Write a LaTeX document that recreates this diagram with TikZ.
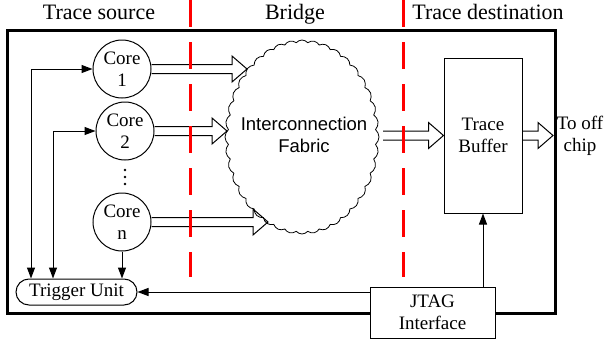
\documentclass[tikz,border=0pt]{standalone}
\usepackage{fontspec}
\setmainfont{Liberation Serif}
\newfontfamily\arialfont{Liberation Sans}
\usetikzlibrary{shapes.symbols,arrows.meta,calc}

\tikzset{
  body/.style={font=\rmfamily\fontsize{19}{22.5}\selectfont},
  head/.style={font=\rmfamily\fontsize{22}{26}\selectfont, anchor=base, inner sep=0pt},
  core/.style={circle, draw, line width=1pt, minimum size=58pt, inner sep=0pt, align=center, body},
  box/.style={rectangle, draw, line width=1pt, fill=white, inner sep=0pt, align=center, body},
  sig/.style={line width=1pt, -{Triangle[length=11pt,width=8pt]}},
  sigboth/.style={line width=1pt, {Triangle[length=11pt,width=8pt]}-{Triangle[length=11pt,width=8pt]}},
  fatline/.style={line width=1pt, line join=miter},
  divider/.style={draw=red, line width=3pt, dash pattern=on 27pt off 15pt},
  frame/.style={line width=3pt},
}

% hollow block arrow between two points at the same height
\newcommand{\fatarrow}[2]{%
  \draw[fatline] let \p1=(#1), \p2=(#2) in
    (\x1,\y1+4.5pt) -- (\x2-15pt,\y1+4.5pt) -- (\x2-15pt,\y1+13pt) -- (\x2,\y1)
    -- (\x2-15pt,\y1-13pt) -- (\x2-15pt,\y1-4.5pt) -- (\x1,\y1-4.5pt);}

\begin{document}
\begin{tikzpicture}[x=1pt,y=-1pt]
\useasboundingbox (0,0) rectangle (606,343);

% chip boundary
\draw[frame] (7,30) rectangle (555,313);

% section headings
\node[head] (hsrc) at (99,19) {Trace source};
\node[head] (hbridge) at (295,19) {Bridge};
\node[head] (hdst) at (488,19) {Trace destination};

% cores
\node[core] (core1) at (122,69) {Core\\1};
\node[core] (core2) at (125,131) {Core\\2};
\node[core] (coren) at (122,222) {Core\\n};
\foreach \yy in {170,177,184} \fill (125,\yy) circle (1.4pt);

% interconnect cloud
\node[cloud, draw, line width=0.8pt, cloud puffs=40, cloud puff arc=100,
      cloud ignores aspect, minimum width=154pt, minimum height=194pt,
      inner sep=0pt] (fabric) at (302,137) {};
\node[font=\arialfont\fontsize{18.5}{22}\selectfont, align=center] (fabtext) at (304,135) {Interconnection\\Fabric};

% trace buffer, trigger unit, JTAG
\node[box, minimum width=78pt, minimum height=155pt] (buf) at (483,135.5) {Trace\\Buffer};
\node[box, rounded corners=13pt, minimum width=121pt, minimum height=26pt] (trig) at (76.5,292) {Trigger Unit};
\node[box, minimum width=125pt, minimum height=51pt] (jtag) at (432.5,312.5) {JTAG\\Interface};
\node[body, align=center, inner sep=0pt] (offchip) at (580,136) {To off\\chip};

% end points of the block arrows
\coordinate (in1) at (247,69);
\coordinate (in2) at (227,131);
\coordinate (inn) at (268,222);
\coordinate (fabout) at (383,135.5);
\coordinate (outtip) at (553,135.5);
\coordinate (l1) at (31,0);
\coordinate (l2) at (53,0);

% trace data paths
\fatarrow{core1.east}{in1}
\fatarrow{core2.east}{in2}
\fatarrow{coren.east}{inn}
\fatarrow{fabout}{buf.west}
\fatarrow{buf.east}{outtip}

% control signals
\draw[sigboth] (core1.west) -| (trig.north -| l1);
\draw[sigboth] (core2.west) -| (trig.north -| l2);
\draw[sig] (coren.south) -- (coren.south |- trig.north);
\draw[sig] (jtag.west |- trig.east) -- (trig.east);
\draw[sig] (buf.south |- jtag.north) -- (buf.south);

% section dividers
\draw[divider] (190,0) -- (190,277);
\draw[divider] (403,0) -- (403,277);
\end{tikzpicture}
\end{document}
